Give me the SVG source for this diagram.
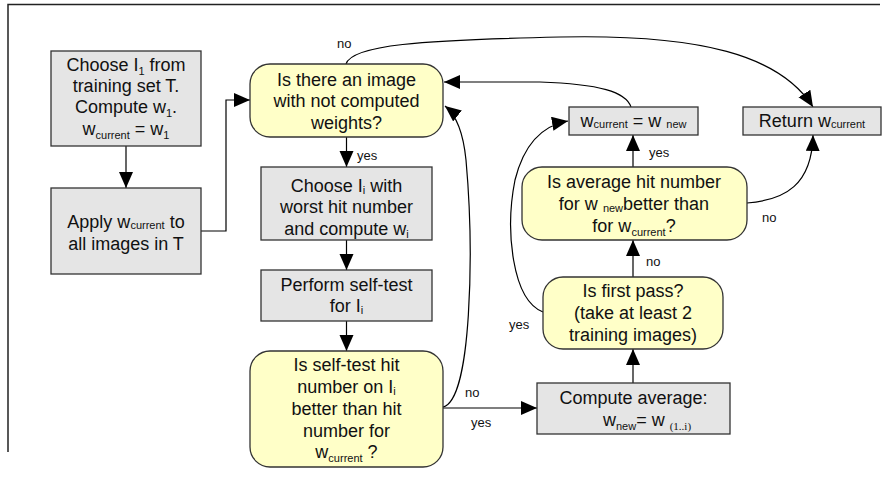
<svg xmlns="http://www.w3.org/2000/svg" width="886" height="481" viewBox="0 0 886 481">
<defs>
<marker id="ah" markerUnits="userSpaceOnUse" markerWidth="18" markerHeight="16" refX="16" refY="7" orient="auto">
<path d="M0,0 L16,7 L0,14 z" fill="#000"/>
</marker>
<style>
.box{fill:#e5e5e5;stroke:#333;stroke-width:1.3}
.dec{fill:#ffffc8;stroke:#333;stroke-width:1.3}
.t{font-family:"Liberation Sans",Arial,sans-serif;font-size:18px;fill:#111;text-anchor:middle}
.s{font-size:11px}
.lbl{font-family:"Liberation Sans",Arial,sans-serif;font-size:13px;fill:#111}
.c{fill:none;stroke:#000;stroke-width:1.2}
.ca{fill:none;stroke:#000;stroke-width:1.2;marker-end:url(#ah)}
</style>
</defs>
<rect width="886" height="481" fill="#fff"/>
<path d="M8,452 L8,4.5 L880,4.5" fill="none" stroke="#222" stroke-width="1.5"/>

<g id="connectors">
<path class="ca" d="M126,146 L126,188"/>
<path class="ca" d="M201,231 L226,231 L226,100 L250,100"/>
<path class="ca" d="M346.5,137 L346.5,167"/>
<path class="ca" d="M346.5,240 L346.5,270"/>
<path class="ca" d="M346.5,321 L346.5,351"/>
<path class="ca" d="M443,408 L537,408"/>
<path class="ca" d="M443,407 C472,400 474,250 466,160 C463,130 455,114 445,106"/>
<path class="ca" d="M633,383 L633,349"/>
<path class="ca" d="M633,277 L633,240"/>
<path class="ca" d="M633,167 L633,135"/>
<path class="ca" d="M747,203 C785,200 812,185 813,135"/>
<path class="ca" d="M631,107 C626,92 600,84 540,82 L444,82"/>
<path class="ca" d="M346,64 C352,45 420,40 560,37 C700,34 780,55 813,107"/>
<path class="ca" d="M543,312 C512,300 505,230 515,180 C525,140 545,125 568,121"/>
<text class="lbl" x="337" y="48">no</text>
<text class="lbl" x="357" y="160">yes</text>
<text class="lbl" x="465" y="397">no</text>
<text class="lbl" x="471" y="427">yes</text>
<text class="lbl" x="509" y="329">yes</text>
<text class="lbl" x="646" y="266">no</text>
<text class="lbl" x="649" y="157">yes</text>
<text class="lbl" x="762" y="222">no</text>
</g>

<g id="nodeA">
<rect class="box" x="51" y="51" width="150" height="95"/>
<text class="t" x="126" y="71">Choose I<tspan class="s" dy="4">1</tspan><tspan dy="-4"> from</tspan></text>
<text class="t" x="126" y="92">training set T.</text>
<text class="t" x="126" y="113">Compute w<tspan class="s" dy="4">1</tspan><tspan dy="-4">.</tspan></text>
<text class="t" x="126" y="135">w<tspan class="s" dy="4">current</tspan><tspan dy="-4"> = w</tspan><tspan class="s" dy="4">1</tspan></text>
</g>

<g id="nodeB">
<rect class="box" x="51" y="188" width="150" height="86"/>
<text class="t" x="126" y="228">Apply w<tspan class="s" dy="1">current</tspan><tspan dy="-1"> to</tspan></text>
<text class="t" x="126" y="250">all images in T</text>
</g>

<g id="nodeC">
<rect class="dec" x="250" y="64" width="193" height="73" rx="20"/>
<text class="t" x="346.5" y="86">Is there an image</text>
<text class="t" x="346.5" y="107">with not computed</text>
<text class="t" x="346.5" y="129">weights?</text>
</g>

<g id="nodeD">
<rect class="box" x="261" y="167" width="171" height="73"/>
<text class="t" x="346.5" y="192">Choose I<tspan class="s" dy="2">i</tspan><tspan dy="-2"> with</tspan></text>
<text class="t" x="346.5" y="213">worst hit number</text>
<text class="t" x="346.5" y="235">and compute w<tspan class="s" dy="3">i</tspan></text>
</g>

<g id="nodeE">
<rect class="box" x="261" y="270" width="171" height="51"/>
<text class="t" x="346.5" y="291">Perform self-test</text>
<text class="t" x="346.5" y="312">for I<tspan class="s" dy="2">i</tspan></text>
</g>

<g id="nodeF">
<rect class="dec" x="250" y="351" width="193" height="116" rx="20"/>
<text class="t" x="346.5" y="371">Is self-test hit</text>
<text class="t" x="346.5" y="393">number on I<tspan class="s" dy="2">i</tspan></text>
<text class="t" x="346.5" y="415">better than hit</text>
<text class="t" x="346.5" y="437">number for</text>
<text class="t" x="346.5" y="458">w<tspan class="s" dy="4">current</tspan><tspan dy="-4"> ?</tspan></text>
</g>

<g id="nodeG">
<rect class="box" x="537" y="383" width="193" height="51"/>
<text class="t" x="633.5" y="404">Compute average:</text>
<text class="t" x="603" y="426" style="text-anchor:start">w<tspan class="s" dy="4">new</tspan><tspan dy="-4">= w </tspan><tspan dy="4" style="font-family:'Liberation Serif',serif;font-size:11px">(1..i)</tspan></text>
</g>

<g id="nodeH">
<rect class="dec" x="543" y="277" width="180" height="72" rx="20"/>
<text class="t" x="633" y="297">Is first pass?</text>
<text class="t" x="633" y="319">(take at least 2</text>
<text class="t" x="633" y="341">training images)</text>
</g>

<g id="nodeI">
<rect class="dec" x="522" y="167" width="225" height="73" rx="20"/>
<text class="t" x="634" y="188">Is average hit number</text>
<text class="t" x="634" y="210">for w <tspan class="s" dy="2">new</tspan><tspan dy="-2">better than</tspan></text>
<text class="t" x="634" y="232">for w<tspan class="s" dy="4">current</tspan><tspan dy="-4">?</tspan></text>
</g>

<g id="nodeJ">
<rect class="box" x="569" y="107" width="129" height="28"/>
<text class="t" x="633.5" y="127">w<tspan class="s" dy="1">current</tspan><tspan dy="-1"> = w </tspan><tspan class="s" dy="1">new</tspan></text>
</g>

<g id="nodeK">
<rect class="box" x="743" y="107" width="138" height="28"/>
<text class="t" x="812" y="127">Return w<tspan class="s" dy="1">current</tspan></text>
</g>
</svg>
